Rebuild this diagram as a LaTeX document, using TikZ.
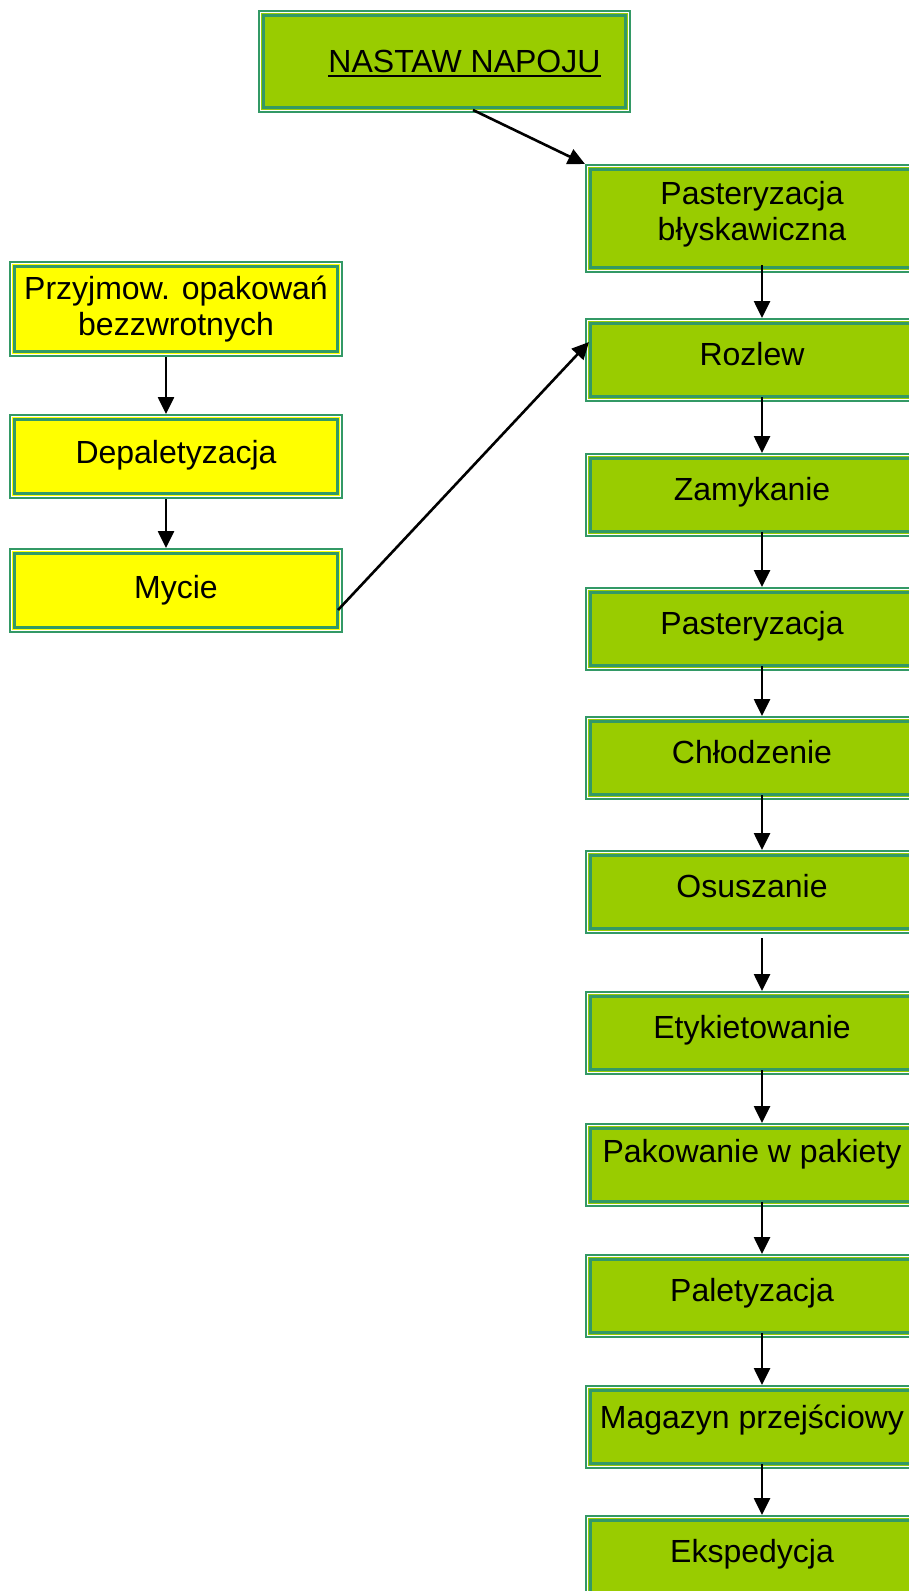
\documentclass[tikz,border=0pt]{standalone}
\usepackage{fontspec}
\setmainfont{Liberation Sans}
\usetikzlibrary{arrows.meta}
\definecolor{gfill}{HTML}{99CC00}
\definecolor{yfill}{HTML}{FFFF00}
\definecolor{bord}{HTML}{339966}
\begin{document}
\begin{tikzpicture}[x=1pt,y=-1pt,
  box/.style={rectangle, inner sep=0pt, outer sep=0pt, draw=none,
    font=\fontsize{32}{36}\selectfont, align=center,
    text height=23pt, text depth=#1},
  box/.default=12pt,
  gbox/.style={box=#1, fill=gfill, minimum width=334pt, minimum height=84pt},
  gbox/.default=12pt,
  ybox/.style={box=#1, fill=yfill, minimum width=334pt, minimum height=85pt},
  ybox/.default=12pt,
  arr/.style={line width=2.6pt, -{Triangle[width=16pt,length=17pt]}}]
\useasboundingbox (0,0) rectangle (909,1591);
\clip (0,0) rectangle (909,1591);
% top
\node[box=2pt, fill=gfill, minimum width=373pt, minimum height=103pt] (top) at (444.5,61.5)
  {\hspace*{40pt}{\setbox0\hbox{NASTAW NAPOJU}\rlap{\rule[-5pt]{\wd0}{2pt}}\box0}};
% right column
\node[gbox=16pt, text height=59pt, minimum height=109pt] (b1) at (752,218.5) {Pasteryzacja\\błyskawiczna};
\node[gbox] (b2) at (752,360) {Rozlew};
\node[gbox] (b3) at (752,495) {Zamykanie};
\node[gbox] (b4) at (752,629) {Pasteryzacja};
\node[gbox] (b5) at (752,758) {Chłodzenie};
\node[gbox] (b6) at (752,892) {Osuszanie};
\node[gbox] (b7) at (752,1033) {Etykietowanie};
\node[gbox=29pt] (b8) at (752,1165) {Pakowanie w pakiety};
\node[gbox] (b9) at (752,1296) {Paletyzacja};
\node[gbox=20pt] (b10) at (752,1427) {Magazyn przejściowy};
\node[gbox=13pt] (b11) at (752,1557) {Ekspedycja};
% left column
\node[ybox=7pt, text height=59pt, minimum height=96pt] (l1) at (176,309) {Przyjmow. opakowań\\bezzwrotnych};
\node[ybox=10pt] (l2) at (176,456.5) {Depaletyzacja};
\node[ybox=8pt] (l3) at (176,590.5) {Mycie};
% triple borders
\foreach \n in {top,b1,b2,b3,b4,b5,b6,b7,b8,b9,b10,b11,l1,l2,l3}{
  \draw[bord, line width=2pt] ([shift={(1pt,-1pt)}]\n.north west) rectangle ([shift={(-1pt,1pt)}]\n.south east);
  \draw[white, line width=1.3pt] ([shift={(2.7pt,-2.7pt)}]\n.north west) rectangle ([shift={(-2.7pt,2.7pt)}]\n.south east);
  \draw[bord, line width=2.7pt] ([shift={(5.7pt,-5.7pt)}]\n.north west) rectangle ([shift={(-5.7pt,5.7pt)}]\n.south east);
}
% connectors
\draw[arr] ([xshift=28.5pt,yshift=3pt]top.south) -- (b1.north west);
\draw[arr] ([xshift=-5pt,yshift=-19.5pt]l3.east) -- ([xshift=4pt,yshift=18pt]b2.west);
\draw[arr] ([xshift=-10pt]l1.south) -- ([xshift=-10pt]l2.north);
\draw[arr] ([xshift=-10pt]l2.south) -- ([xshift=-10pt]l3.north);
\draw[arr] ([xshift=10pt,yshift=8pt]b1.south) -- ([xshift=10pt]b2.north);
\draw[arr] ([xshift=10pt,yshift=5pt]b2.south) -- ([xshift=10pt]b3.north);
\draw[arr] ([xshift=10pt,yshift=5pt]b3.south) -- ([xshift=10pt]b4.north);
\draw[arr] ([xshift=10pt,yshift=5pt]b4.south) -- ([xshift=10pt]b5.north);
\draw[arr] ([xshift=10pt,yshift=5pt]b5.south) -- ([xshift=10pt]b6.north);
\draw[arr] ([xshift=10pt,yshift=-4pt]b6.south) -- ([xshift=10pt]b7.north);
\draw[arr] ([xshift=10pt,yshift=5pt]b7.south) -- ([xshift=10pt]b8.north);
\draw[arr] ([xshift=10pt,yshift=5pt]b8.south) -- ([xshift=10pt]b9.north);
\draw[arr] ([xshift=10pt,yshift=5pt]b9.south) -- ([xshift=10pt]b10.north);
\draw[arr] ([xshift=10pt,yshift=5pt]b10.south) -- ([xshift=10pt]b11.north);
\end{tikzpicture}
\end{document}
